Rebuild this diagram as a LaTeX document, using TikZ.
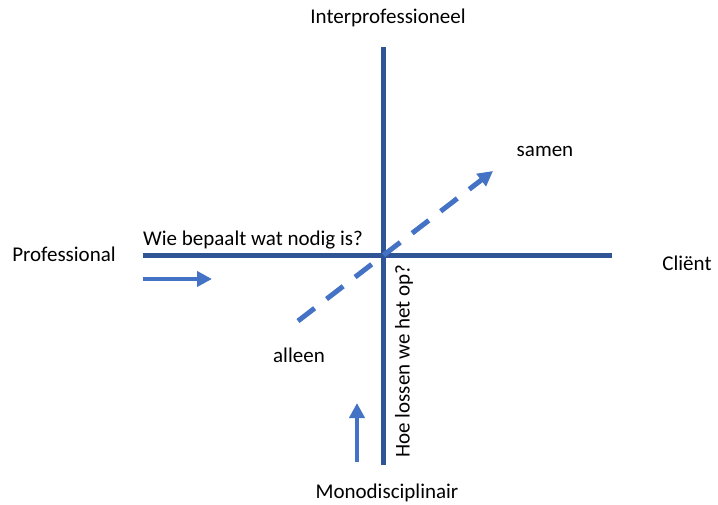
\documentclass[tikz,border=0pt]{standalone}
\usepackage{fontspec}
\setmainfont{Carlito}
\usetikzlibrary{arrows.meta}
\definecolor{axisblue}{HTML}{2F5597}
\definecolor{arrowblue}{HTML}{4472C4}
\tikzset{axisline/.style={draw=axisblue, line width=5pt},
  dirarrow/.style={draw=arrowblue, line width=4pt, -{Triangle[length=15pt, width=15pt]}},
  lbl/.style={font=\fontsize{21}{25}\selectfont, inner sep=0pt}}

\begin{document}
\begin{tikzpicture}[x=1pt, y=-1pt]
\useasboundingbox (0,0) rectangle (718,505);
% axes
\coordinate (top) at (383,47);
\coordinate (bottom) at (383,465);
\coordinate (left) at (143,256);
\coordinate (right) at (612,256);
\draw[axisline] (top) -- (bottom);
\draw[axisline] (left) -- (right);
% direction arrows
\coordinate (ra) at (143,279);
\coordinate (rb) at (212,279);
\draw[dirarrow] (ra) -- (rb);
\coordinate (ua) at (357,462);
\coordinate (ub) at (357,403);
\draw[dirarrow] (ua) -- (ub);
\coordinate (da) at (298,321);
\coordinate (db) at (493,171);
\draw[dirarrow, line width=5pt, dash pattern=on 21pt off 15pt] (da) -- (db);
% labels
\node[lbl] (interpro) at (388,18) {Interprofessioneel};
\node[lbl] (mono) at (387,493) {Monodisciplinair};
\node[lbl] (prof) at (64,254) {Professional};
\node[lbl] (client) at (687,263) {Cliënt};
\node[lbl] (samen) at (545,151) {samen};
\node[lbl] (alleen) at (299,355) {alleen};
\node[lbl, anchor=base west] (wie) at (143,246) {Wie bepaalt wat nodig is?};
\node[lbl, rotate=90] (hoe) at (404,361) {Hoe lossen we het op?};
\end{tikzpicture}
\end{document}
